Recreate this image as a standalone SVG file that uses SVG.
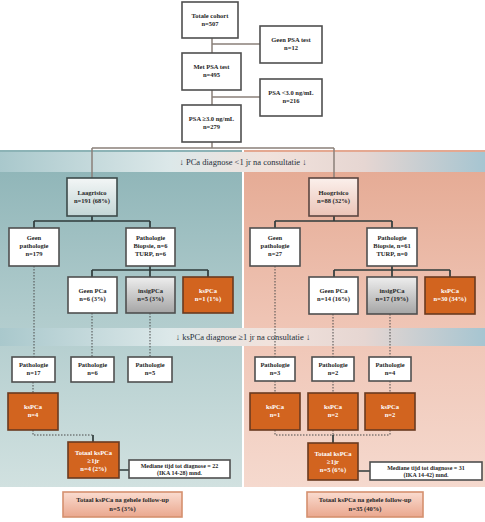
<svg xmlns="http://www.w3.org/2000/svg" width="485" height="522" viewBox="0 0 485 522">
<defs>
<linearGradient id="gTeal" x1="0" y1="0" x2="0" y2="1">
<stop offset="0" stop-color="#8cb3b6"/><stop offset="0.5" stop-color="#b1cccd"/><stop offset="1" stop-color="#d1e1e0"/>
</linearGradient>
<linearGradient id="gSalmon" x1="0" y1="0" x2="0" y2="1">
<stop offset="0" stop-color="#e4a891"/><stop offset="0.5" stop-color="#efc4b4"/><stop offset="1" stop-color="#f5d9ce"/>
</linearGradient>
<linearGradient id="gBand" x1="0" y1="0" x2="1" y2="0">
<stop offset="0" stop-color="#a9c8cc"/><stop offset="0.35" stop-color="#dce8e9"/><stop offset="0.55" stop-color="#f1e2dc"/><stop offset="0.75" stop-color="#e6d6d2"/><stop offset="1" stop-color="#a6c5d1"/>
</linearGradient>
<linearGradient id="gLaag" x1="0" y1="0" x2="0" y2="1">
<stop offset="0" stop-color="#f3f6f6"/><stop offset="1" stop-color="#c3d6d6"/>
</linearGradient>
<linearGradient id="gHoog" x1="0" y1="0" x2="0" y2="1">
<stop offset="0" stop-color="#fbf0ec"/><stop offset="1" stop-color="#ebc4b7"/>
</linearGradient>
<linearGradient id="gGrey" x1="0" y1="0" x2="0" y2="1">
<stop offset="0" stop-color="#eeeeee"/><stop offset="1" stop-color="#a5a5a5"/>
</linearGradient>
<linearGradient id="gFinal" x1="0" y1="0" x2="0" y2="1">
<stop offset="0" stop-color="#fadcd0"/><stop offset="1" stop-color="#eaa78e"/>
</linearGradient>
</defs>
<style>
.box{fill:#ffffff;stroke:#4f4f4f;stroke-width:1.6}
.laag{fill:url(#gLaag);stroke:#3c4a4a;stroke-width:1.6}
.hoog{fill:url(#gHoog);stroke:#5a4540;stroke-width:1.6}
.grey{fill:url(#gGrey);stroke:#4f4f4f;stroke-width:1.6}
.org{fill:#d2641f;stroke:#6a3a20;stroke-width:1.6}
.fin{fill:url(#gFinal);stroke:#d5906f;stroke-width:1.6}
text{font-family:"Liberation Serif","DejaVu Serif",serif;font-size:6.5px;font-weight:bold;fill:#262626;text-anchor:middle}
.w{fill:#ffffff}
.s{font-size:6px}
.band{font-size:8.5px;font-weight:normal;fill:#1f2f3a}
.c{fill:none;stroke:#2f3b3b;stroke-width:1.7}
.ct{fill:none;stroke:#8a8079;stroke-width:1.5}
.d{fill:none;stroke:#4a4a4a;stroke-width:1;stroke-dasharray:1.5,1.5}
</style>
<rect x="0" y="0" width="485" height="522" fill="#ffffff"/>
<g id="panels">
<rect x="0" y="150" width="242" height="337" fill="url(#gTeal)"/>
<rect x="244" y="150" width="241" height="337" fill="url(#gSalmon)"/>
<rect x="0" y="152" width="485" height="20" fill="url(#gBand)"/>
<rect x="0" y="328" width="485" height="18" fill="url(#gBand)"/>
<text class="band" x="243" y="165">↓ PCa diagnose &lt;1 jr na consultatie ↓</text>
<text class="band" x="243" y="340">↓ ksPCa diagnose ≥1 jr na consultatie ↓</text>
</g>
<g id="connectors">
<path class="ct" d="M212 38V53M212 90V105M212 44H260M212 97H260M212 142V148M92 148H334M92 148V178M334 148V178"/>
<path class="c" d="M92 216V221M34 221H150M34 221V228M150 221V228M150 266V270M92 270H208M92 270V277M150 270V277M208 270V277"/>
<path class="c" d="M334 216V221M275 221H392M275 221V228M392 221V228M392 266V270M334 270H450M334 270V277M392 270V277M450 270V277"/>
<path class="d" d="M34 266V357M92 313V357M150 313V357M33 382V393M33 430V435H93"/>
<path class="c" d="M93 435V442M119 470H129"/>
<path class="d" d="M275 266V357M333 314V357M390 314V357M275 381V393M333 381V393M390 381V393M275 430V435H390M333 430V435M390 430V435"/>
<path class="c" d="M333 435V443M358 471H370"/>
</g>
<g id="n_total"><rect class="box" x="182" y="2" width="56" height="36"/><text x="210" y="18">Totale cohort</text><text x="210" y="26">n=507</text></g>
<g id="n_geenpsa"><rect class="box" x="260" y="26" width="62" height="37"/><text x="291" y="42">Geen PSA test</text><text x="291" y="50">n=12</text></g>
<g id="n_metpsa"><rect class="box" x="182" y="53" width="59" height="37"/><text x="211.5" y="69">Met PSA test</text><text x="211.5" y="77">n=495</text></g>
<g id="n_psalow"><rect class="box" x="260" y="79" width="62" height="37"/><text x="291" y="95">PSA &lt;3.0 ng/mL</text><text x="291" y="103">n=216</text></g>
<g id="n_psahigh"><rect class="box" x="182" y="105" width="59" height="37"/><text x="211.5" y="121">PSA ≥3.0 ng/mL</text><text x="211.5" y="129">n=279</text></g>

<g id="n_laag"><rect class="laag" x="67" y="178" width="50" height="38"/><text x="92" y="195">Laagrisico</text><text x="92" y="203">n=191 (68%)</text></g>
<g id="n_geenpathL"><rect class="box" x="9" y="228" width="50" height="38"/><text x="34" y="240">Geen</text><text x="34" y="248">pathologie</text><text x="34" y="256">n=179</text></g>
<g id="n_pathL"><rect class="box" x="126" y="228" width="49" height="38"/><text x="150.5" y="240">Pathologie</text><text x="150.5" y="248">Biopsie, n=6</text><text x="150.5" y="256">TURP, n=6</text></g>
<g id="n_geenpcaL"><rect class="box" x="68" y="277" width="49" height="36"/><text x="92.5" y="293">Geen PCa</text><text x="92.5" y="301">n=6 (3%)</text></g>
<g id="n_insigL"><rect class="grey" x="126" y="277" width="49" height="36"/><text x="150.5" y="293">insigPCa</text><text x="150.5" y="301">n=5 (3%)</text></g>
<g id="n_kspcaL"><rect class="org" x="183" y="277" width="50" height="36"/><text class="w" x="208" y="293">ksPCa</text><text class="w" x="208" y="301">n=1 (1%)</text></g>
<g id="n_pathL1"><rect class="box" x="12" y="357" width="43" height="25"/><text x="33.5" y="367">Pathologie</text><text x="33.5" y="375">n=17</text></g>
<g id="n_pathL2"><rect class="box" x="71" y="357" width="43" height="25"/><text x="92.5" y="367">Pathologie</text><text x="92.5" y="375">n=6</text></g>
<g id="n_pathL3"><rect class="box" x="128" y="357" width="44" height="25"/><text x="150" y="367">Pathologie</text><text x="150" y="375">n=5</text></g>
<g id="n_ksL"><rect class="org" x="8" y="393" width="50" height="37"/><text class="w" x="33" y="409">ksPCa</text><text class="w" x="33" y="417">n=4</text></g>
<g id="n_totL"><rect class="org" x="68" y="442" width="51" height="36"/><text class="w" x="93.5" y="455">Totaal ksPCa</text><text class="w" x="93.5" y="463">≥1jr</text><text class="w" x="93.5" y="471">n=4 (2%)</text></g>
<g id="n_medL"><rect class="box" x="129" y="460" width="101" height="18"/><text class="s" x="179.5" y="467.5">Mediane tijd tot diagnose = 22</text><text class="s" x="179.5" y="475">(IKA 14-28) mnd.</text></g>
<g id="n_finalL"><rect class="fin" x="63" y="492" width="119" height="25"/><text x="122.5" y="502">Totaal ksPCa na gehele follow-up</text><text x="122.5" y="511">n=5 (3%)</text></g>

<g id="n_hoog"><rect class="hoog" x="309" y="178" width="49" height="38"/><text x="333.5" y="195">Hoogrisico</text><text x="333.5" y="203">n=88 (32%)</text></g>
<g id="n_geenpathR"><rect class="box" x="250" y="228" width="50" height="38"/><text x="275" y="240">Geen</text><text x="275" y="248">pathologie</text><text x="275" y="256">n=27</text></g>
<g id="n_pathR"><rect class="box" x="367" y="228" width="50" height="38"/><text x="392" y="240">Pathologie</text><text x="392" y="248">Biopsie, n=61</text><text x="392" y="256">TURP, n=0</text></g>
<g id="n_geenpcaR"><rect class="box" x="309" y="277" width="49" height="37"/><text x="333.5" y="293">Geen PCa</text><text x="333.5" y="301">n=14 (16%)</text></g>
<g id="n_insigR"><rect class="grey" x="367" y="277" width="50" height="37"/><text x="392" y="293">insigPCa</text><text x="392" y="301">n=17 (19%)</text></g>
<g id="n_kspcaR"><rect class="org" x="425" y="277" width="50" height="37"/><text class="w" x="450" y="293">ksPCa</text><text class="w" x="450" y="301">n=30 (34%)</text></g>
<g id="n_pathR1"><rect class="box" x="255" y="357" width="40" height="24"/><text x="275" y="367">Pathologie</text><text x="275" y="375">n=3</text></g>
<g id="n_pathR2"><rect class="box" x="312" y="357" width="42" height="24"/><text x="333" y="367">Pathologie</text><text x="333" y="375">n=2</text></g>
<g id="n_pathR3"><rect class="box" x="369" y="357" width="42" height="24"/><text x="390" y="367">Pathologie</text><text x="390" y="375">n=4</text></g>
<g id="n_ksR1"><rect class="org" x="250" y="393" width="50" height="37"/><text class="w" x="275" y="409">ksPCa</text><text class="w" x="275" y="417">n=1</text></g>
<g id="n_ksR2"><rect class="org" x="308" y="393" width="50" height="37"/><text class="w" x="333" y="409">ksPCa</text><text class="w" x="333" y="417">n=2</text></g>
<g id="n_ksR3"><rect class="org" x="365" y="393" width="50" height="37"/><text class="w" x="390" y="409">ksPCa</text><text class="w" x="390" y="417">n=2</text></g>
<g id="n_totR"><rect class="org" x="308" y="443" width="50" height="37"/><text class="w" x="333" y="456">Totaal ksPCa</text><text class="w" x="333" y="464">≥1jr</text><text class="w" x="333" y="472">n=5 (6%)</text></g>
<g id="n_medR"><rect class="box" x="370" y="462" width="112" height="18"/><text class="s" x="426" y="469.5">Mediane tijd tot diagnose = 31</text><text class="s" x="426" y="477">(IKA 14-42) mnd.</text></g>
<g id="n_finalR"><rect class="fin" x="307" y="492" width="116" height="25"/><text x="365" y="502">Totaal ksPCa na gehele follow-up</text><text x="365" y="511">n=35 (40%)</text></g>
</svg>
